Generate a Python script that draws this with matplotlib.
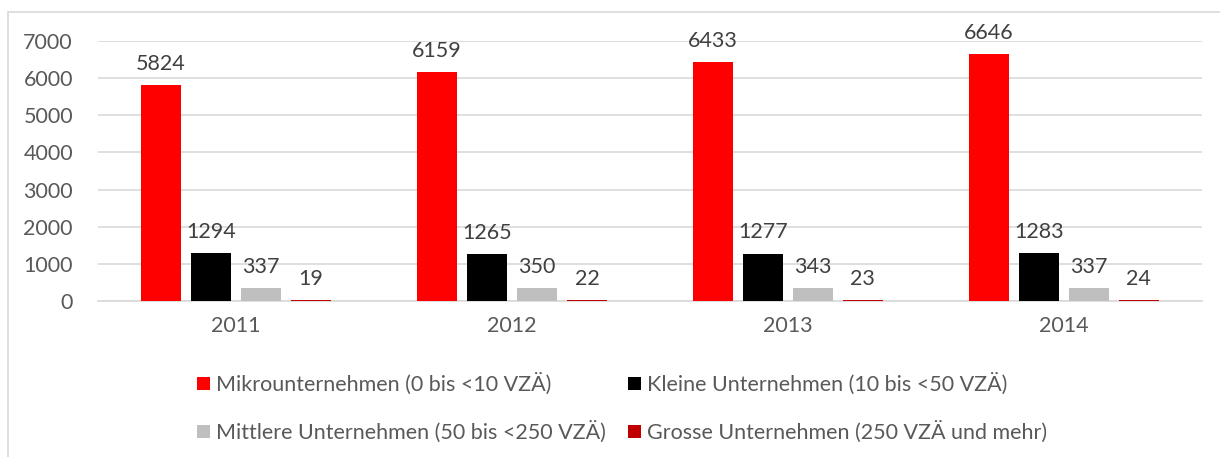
import matplotlib
matplotlib.use("Agg")
import matplotlib.pyplot as plt
import numpy as np
from matplotlib.patches import Rectangle

plt.rcParams['font.family'] = ['Lato', 'DejaVu Sans']

years = ["2011", "2012", "2013", "2014"]
series_names = [
    "Mikrounternehmen (0 bis <10 VZÄ)",
    "Kleine Unternehmen (10 bis <50 VZÄ)",
    "Mittlere Unternehmen (50 bis <250 VZÄ)",
    "Grosse Unternehmen (250 VZÄ und mehr)",
]
mikro = [5824, 6159, 6433, 6646]
kleine = [1294, 1265, 1277, 1283]
mittlere = [337, 350, 343, 337]
grosse = [19, 22, 23, 24]
colors = ["#FF0000", "#000000", "#BFBFBF", "#C00000"]

FS = 15.5
W, H = 1220, 457
fig = plt.figure(figsize=(W / 100, H / 100), dpi=100)
ax = fig.add_axes([98 / W, 1 - 301 / H, (1202 - 98) / W, (301 - 41) / H])

# outer frame
fig.patches.append(Rectangle((8 / W, -0.1), 1.2, 1 - 12 / H + 0.1, transform=fig.transFigure,
                             fill=False, edgecolor="#D9D9D9", linewidth=1.2, zorder=0))

x = np.arange(len(years))
width = 0.145
step = 0.181
all_series = [mikro, kleine, mittlere, grosse]
handles = []
for i, (vals, col, name) in enumerate(zip(all_series, colors, series_names)):
    off = (i - 1.5) * step
    bars = ax.bar(x + off, vals, width, color=col, label=name, zorder=3)
    handles.append(bars)
    for xi, v in zip(x, vals):
        ax.annotate(f"{v}", (xi + off, v), xytext=(0, 8), textcoords="offset points",
                    ha="center", va="bottom", fontsize=FS, color="#404040")

ax.set_xlim(-0.5, 3.5)
ax.set_ylim(0, 7000)
ax.set_yticks(range(0, 7001, 1000))
ax.set_xticks(x)
ax.set_xticklabels(years)
ax.tick_params(axis="both", length=0, labelsize=FS, colors="#595959")
ax.tick_params(axis="x", pad=11)
ax.tick_params(axis="y", pad=18)
ax.grid(axis="y", color="#D9D9D9", linewidth=1.2, zorder=0)
for s in ["top", "right", "left"]:
    ax.spines[s].set_visible(False)
ax.spines["bottom"].set_color("#D9D9D9")
ax.spines["bottom"].set_linewidth(1.2)

# row-wise legend order (matplotlib fills columns first)
order = [0, 2, 1, 3]
leg = fig.legend(handles=[handles[k] for k in order], labels=[series_names[k] for k in order],
                 ncol=2, loc="center",
                 bbox_to_anchor=(622 / W, 1 - 408 / H), frameon=False, fontsize=FS,
                 handlelength=0.6, handleheight=0.6, handletextpad=0.3,
                 columnspacing=1.0, labelspacing=1.2, labelcolor="#595959")

fig.savefig("out.png", dpi=100)
